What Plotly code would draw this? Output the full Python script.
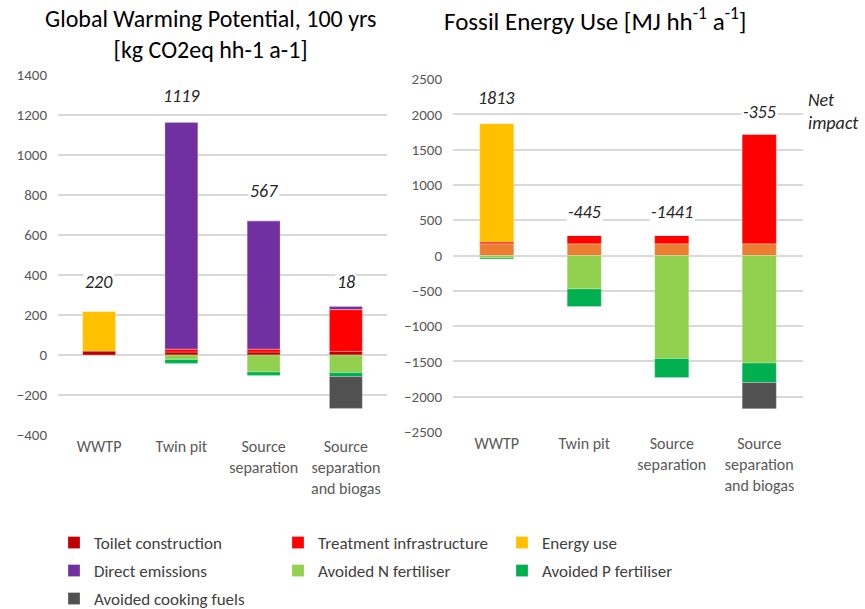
import plotly.graph_objects

categories = ["WWTP", "Twin pit", "Source<br>separation", "Source<br>separation<br>and biogas"]

# Global warming potential contributions [kg CO2eq hh-1 a-1]
gwp_toilet = [20, 15, 15, 18]
gwp_treatment = [0, 15, 15, 209]
gwp_energy = [200, 0, 0, 0]
gwp_direct = [0, 1134, 641, 15]
gwp_avoided_n = [0, -22, -85, -88]
gwp_avoided_p = [0, -20, -17, -20]
gwp_cooking = [0, 0, 0, -159]
gwp_net = ["220", "1119", "567", "18"]
gwp_label_y = [366, 1296, 819, 366]

# Fossil energy use contributions [MJ hh-1 a-1]
fe_toilet = [165, 165, 165, 165]
fe_treatment = [25, 119, 119, 1554]
fe_energy = [1680, 0, 0, 0]
fe_direct = [0, 0, 0, 0]
fe_avoided_n = [-35, -473, -1459, -1524]
fe_avoided_p = [-15, -251, -270, -276]
fe_cooking = [0, 0, 0, -369]
fe_net = ["1813", "-445", "-1441", "-355"]
fe_label_y = [2230, 615, 615, 2035]

series = ["Toilet construction", "Treatment infrastructure", "Energy use", "Direct emissions",
          "Avoided N fertiliser", "Avoided P fertiliser", "Avoided cooking fuels"]
gwp_values = [gwp_toilet, gwp_treatment, gwp_energy, gwp_direct, gwp_avoided_n, gwp_avoided_p, gwp_cooking]
fe_values = [fe_toilet, fe_treatment, fe_energy, fe_direct, fe_avoided_n, fe_avoided_p, fe_cooking]
colors = ["#C00000", "#FF0000", "#FFC000", "#7030A0", "#92D050", "#00B050", "#515151"]
# the energy chart draws toilet construction in orange
fe_colors = ["#ED7D31", "#FF0000", "#FFC000", "#7030A0", "#92D050", "#00B050", "#515151"]
# legend rows, three entries per row like the original
legend_rows = ["legend", "legend", "legend", "legend2", "legend2", "legend2", "legend3"]

font = "Carlito, Lato, sans-serif"

# The page body margin is removed after plotting (see post_script),
# so pixel positions read off the picture map straight onto the figure
W, H = 865, 609

def px_x(x):
    return x / W

def px_y(y):
    return 1 - y / H

figure = plotly.graph_objects.Figure()

for name, values, color, row in zip(series, gwp_values, colors, legend_rows):
    figure.add_trace(plotly.graph_objects.Bar(x=categories, y=values, name=name, legend=row,
                                              marker=dict(color=color, line=dict(color="rgba(255,255,255,0.5)", width=0.5)),
                                              width=0.4, xaxis="x", yaxis="y"))

for name, values, color in zip(series, fe_values, fe_colors):
    figure.add_trace(plotly.graph_objects.Bar(x=categories, y=values, name=name, showlegend=False,
                                              marker=dict(color=color, line=dict(color="rgba(255,255,255,0.5)", width=0.5)),
                                              width=0.39, xaxis="x2", yaxis="y2"))

# Net impact labels above the bars
for cat, text, y in zip(categories, gwp_net, gwp_label_y):
    figure.add_annotation(x=cat, y=y, xref="x", yref="y", text=f"<i>{text}</i>", showarrow=False,
                          font=dict(size=18, color="#262626"), bgcolor="white")
for cat, text, y in zip(categories, fe_net, fe_label_y):
    figure.add_annotation(x=cat, y=y, xref="x2", yref="y2", text=f"<i>{text}</i>", showarrow=False,
                          font=dict(size=18, color="#262626"), bgcolor="white")

figure.add_annotation(x=px_x(806), y=px_y(111), xref="paper", yref="paper", xanchor="left", yanchor="middle",
                      text="<i>Net<br>impact</i>", align="left", showarrow=False,
                      font=dict(size=18, color="#262626"))

# Titles
figure.add_annotation(x=px_x(210), y=px_y(34), xref="paper", yref="paper", xanchor="center", yanchor="middle",
                      text="Global Warming Potential, 100 yrs<br>[kg CO2eq hh-1 a-1]", showarrow=False,
                      font=dict(size=24, color="#000000"))
figure.add_annotation(x=px_x(595), y=px_y(20), xref="paper", yref="paper", xanchor="center", yanchor="middle",
                      text="Fossil Energy Use [MJ hh<sup>-1</sup> a<sup>-1</sup>]", showarrow=False,
                      font=dict(size=25, color="#000000"))

xaxis_style = dict(tickfont=dict(size=16, color="#595959", family=font), showline=False, zeroline=False)
yaxis_style = dict(tickfont=dict(size=15, color="#595959", family=font), showline=False, zeroline=False,
                   showgrid=True, gridcolor="#D9D9D9", gridwidth=1.5, ticks="", ticklabelstandoff=10)
legend_style = dict(orientation="h", xanchor="left", yanchor="middle",
                    entrywidth=179, entrywidthmode="pixels", traceorder="normal",
                    font=dict(size=17, color="#404040", family=font))

figure.update_layout(
    barmode="relative",
    width=W, height=H,
    margin=dict(l=0, r=0, t=0, b=0, autoexpand=False),
    plot_bgcolor="white", paper_bgcolor="white",
    font=dict(family=font),
    xaxis=dict(domain=[px_x(58), px_x(387)], anchor="y", **xaxis_style),
    yaxis=dict(domain=[px_y(435), px_y(75)], range=[-400, 1400], dtick=200, anchor="x", **yaxis_style),
    xaxis2=dict(domain=[px_x(453), px_x(803)], anchor="y2", **xaxis_style),
    yaxis2=dict(domain=[px_y(432), px_y(79)], range=[-2500, 2500], dtick=500, anchor="x2", **yaxis_style),
    legend=dict(x=px_x(54), y=px_y(543), **legend_style),
    legend2=dict(x=px_x(54), y=px_y(571), **legend_style),
    legend3=dict(x=px_x(54), y=px_y(599), **legend_style),
)

figure.write_html("out.html", config={"displayModeBar": False},
                  post_script="document.body.style.margin = '0';")
